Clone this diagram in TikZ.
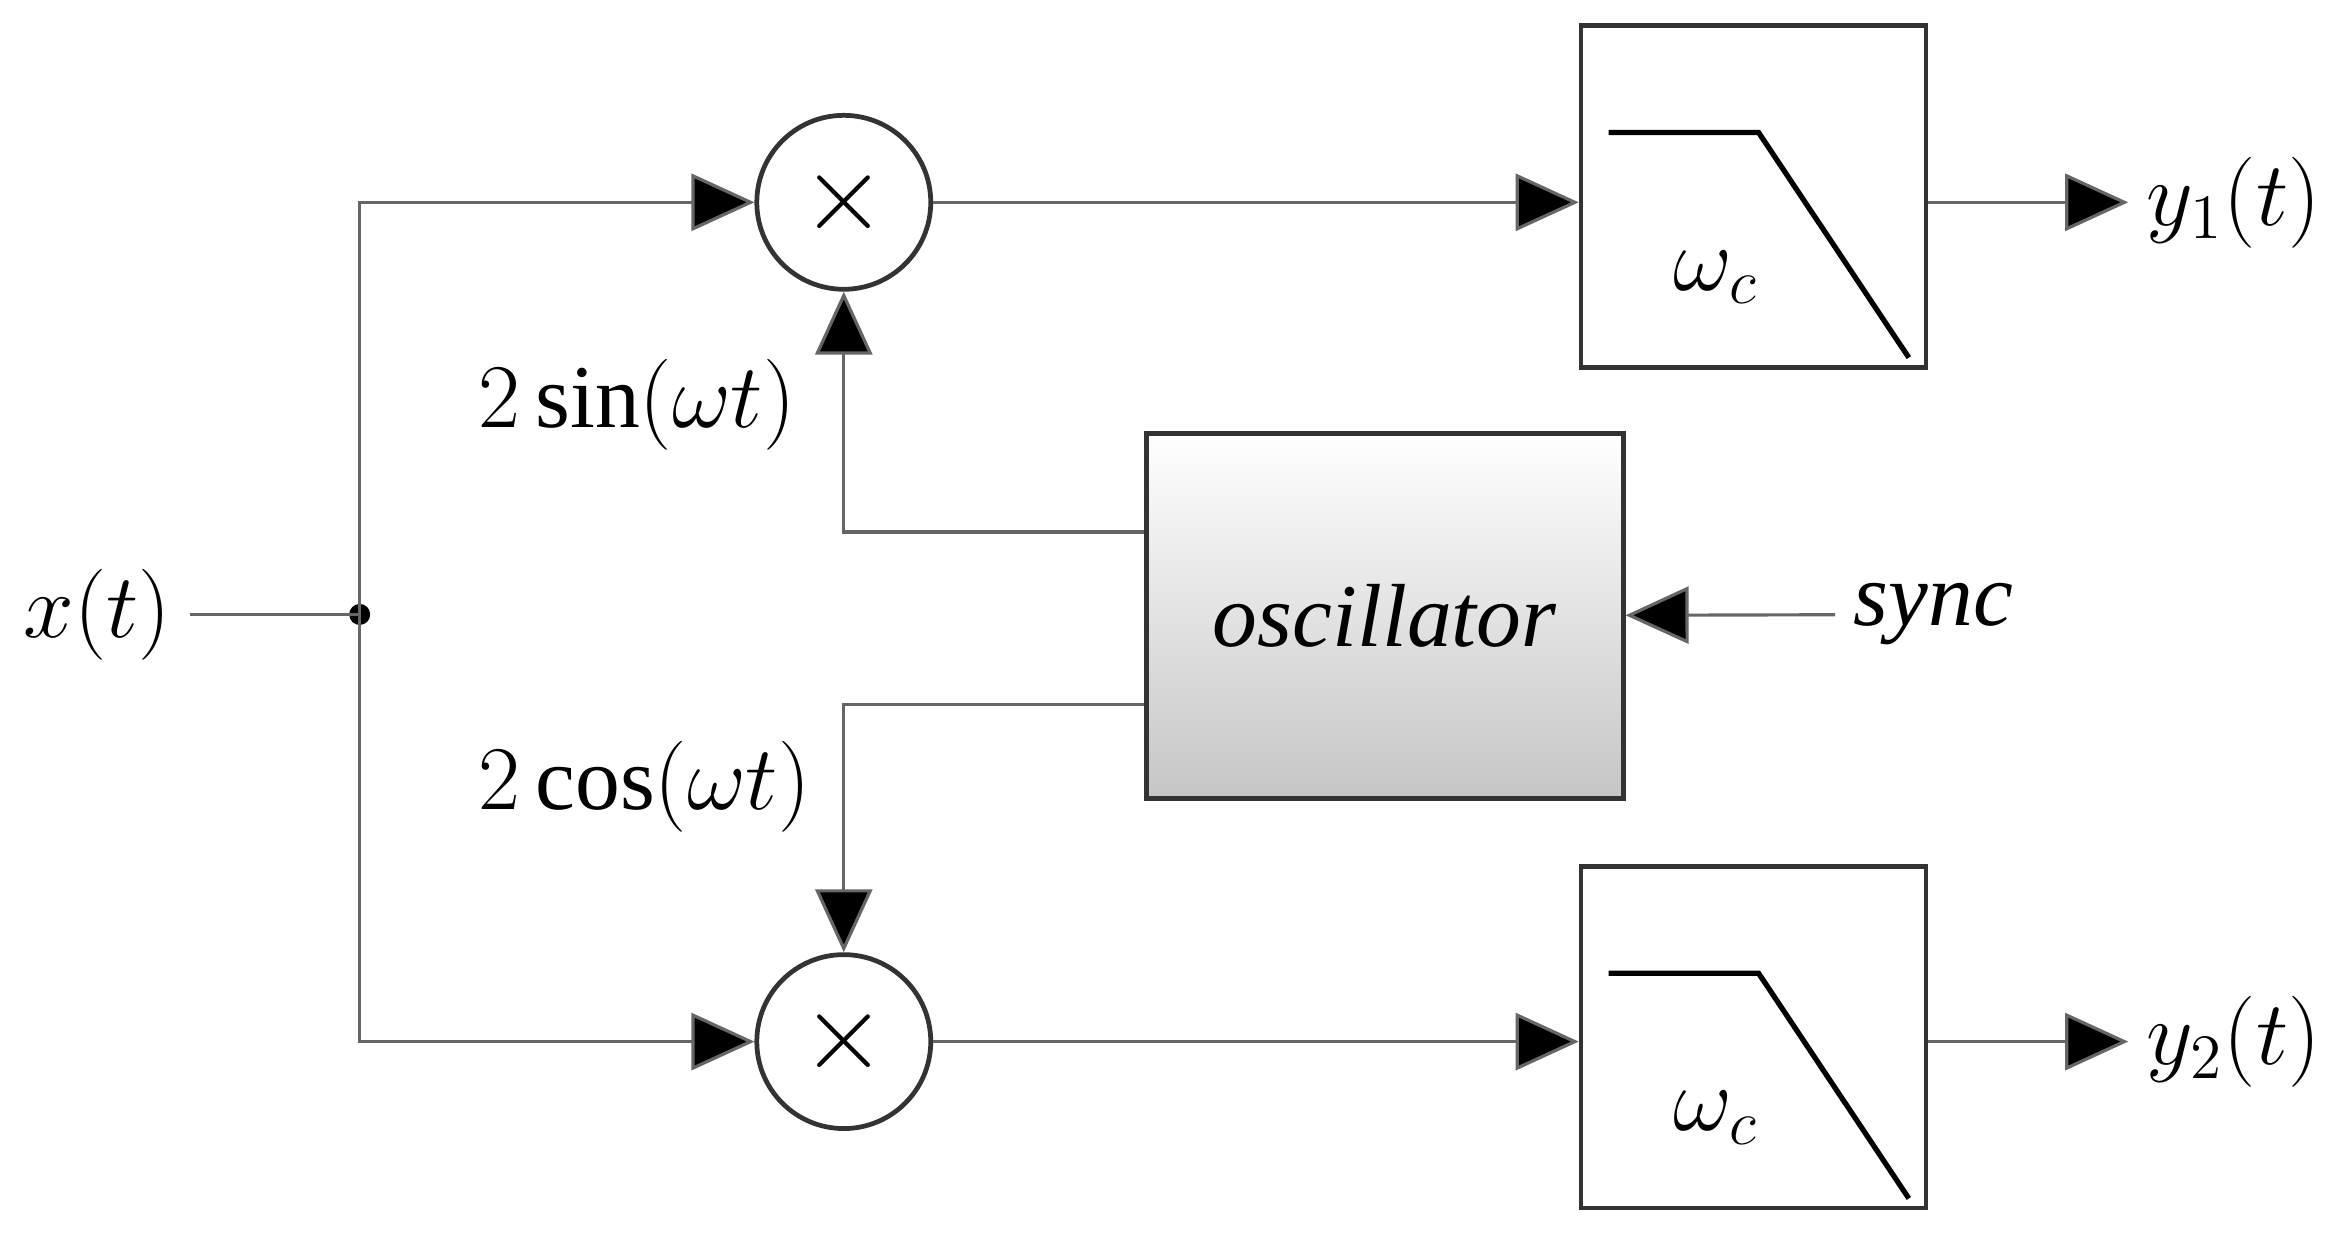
\documentclass[tikz,border=0pt]{standalone}
\usepackage{fontspec}
\setmainfont{Liberation Serif}
\usetikzlibrary{arrows.meta}
\begin{document}
\begin{tikzpicture}[x=0.01cm,y=-0.01cm,
  line/.style={draw=gray!80!black,line width=0.6pt},
  arr/.style={line,-{Triangle[length=0.42cm,width=0.38cm,fill=black]}},
  box/.style={draw=black!80,line width=0.9pt},
  lab/.style={font=\fontsize{17}{20}\selectfont}]
\useasboundingbox (0,0) rectangle (1560,825);
\node[circle,draw=black!80,line width=0.9pt,minimum size=1.16cm,inner sep=0,font=\fontsize{22}{24}\selectfont] (m1) at (563,135) {$\times$};
\node[circle,draw=black!80,line width=0.9pt,minimum size=1.16cm,inner sep=0,font=\fontsize{22}{24}\selectfont] (m2) at (563,695) {$\times$};
\node[box,minimum width=2.3cm,minimum height=2.28cm] (f1) at (1170,131) {};
\node[box,minimum width=2.3cm,minimum height=2.28cm] (f2) at (1170,692) {};
\foreach \f in {f1,f2}{
  \draw[line width=1pt] ([shift={(20,73)}]\f.north west) -- ++(100,0) -- ([shift={(-13,-8)}]\f.south east);
  \node[lab] at ([shift={(-25,54)}]\f.center) {$\omega_c$};}
\node[box,minimum width=3.18cm,minimum height=2.43cm,top color=white,bottom color=gray!45,lab] (osc) at (924,411) {\textit{oscillator}};
\node[lab] (x) at (65,410) {$x(t)$};
\coordinate (d) at (240,410);
\fill (d) circle (0.07cm);
\draw[line] (x) -- (d);
\draw[arr] (d) |- (m1);
\draw[arr] (d) |- (m2);
\draw[arr] (m1) -- (m1 -| f1.west);
\draw[arr] (m2) -- (m2 -| f2.west);
\node[lab,anchor=west] (y1) at (1420,135) {$y_1(t)$};
\node[lab,anchor=west] (y2) at (1420,695) {$y_2(t)$};
\draw[arr] (m1 -| f1.east) -- (y1);
\draw[arr] (m2 -| f2.east) -- (y2);
\draw[arr] (osc.west |- 0,355) -| (m1);
\draw[arr] (osc.west |- 0,470) -| (m2);
\node[lab] (s) at (1290,410) {\textit{sync}};
\draw[arr] (s) -- (osc);
\node[lab] at (425,270) {$2\sin(\omega t)$};
\node[lab] at (430,525) {$2\cos(\omega t)$};
\end{tikzpicture}
\end{document}
